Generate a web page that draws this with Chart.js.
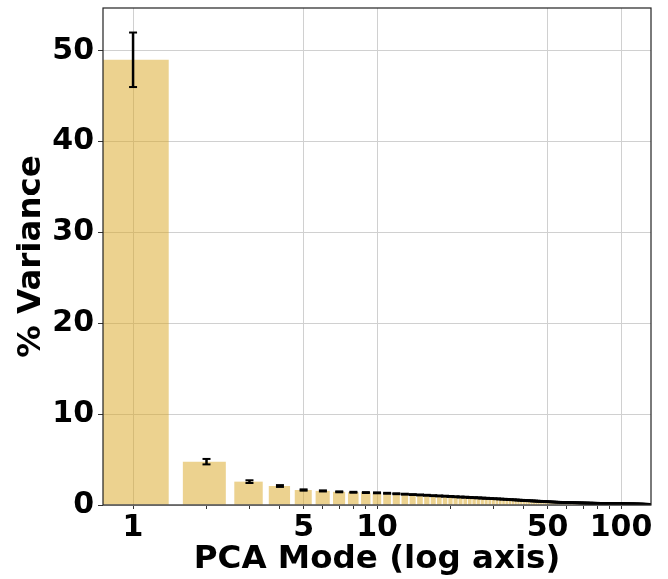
<!DOCTYPE html>
<html>
<head>
<meta charset="utf-8">
<script src="https://cdn.jsdelivr.net/npm/chart.js@4/dist/chart.umd.min.js"></script>
<style>
  html, body { margin: 0; padding: 0; background: #fff; }
  #wrap { width: 668px; height: 579px; }
</style>
</head>
<body>
<div id="wrap"><canvas id="pcaChart" width="668" height="579"></canvas></div>
<script>
// % variance per PCA mode (mode 1 .. 130)
const variance = [
  49.0, 4.77, 2.57, 2.09, 1.65, 1.55, 1.45, 1.40, 1.37, 1.34,
  1.29, 1.24, 1.19, 1.15, 1.11, 1.07, 1.03, 1.00, 0.97, 0.94,
  0.91, 0.88, 0.86, 0.83, 0.81, 0.79, 0.76, 0.74, 0.72, 0.70,
  0.68, 0.66, 0.64, 0.62, 0.60, 0.58, 0.56, 0.54, 0.52, 0.50,
  0.49, 0.47, 0.46, 0.44, 0.43, 0.41, 0.40, 0.39, 0.37, 0.36,
  0.35, 0.34, 0.33, 0.32, 0.31, 0.30, 0.29, 0.29, 0.28, 0.27,
  0.27, 0.26, 0.26, 0.25, 0.25, 0.24, 0.24, 0.23, 0.23, 0.22,
  0.22, 0.22, 0.21, 0.21, 0.21, 0.20, 0.20, 0.20, 0.20, 0.19,
  0.19, 0.19, 0.19, 0.18, 0.18, 0.18, 0.18, 0.18, 0.17, 0.17,
  0.17, 0.17, 0.17, 0.16, 0.16, 0.16, 0.16, 0.16, 0.15, 0.15,
  0.15, 0.15, 0.14, 0.14, 0.14, 0.14, 0.13, 0.13, 0.13, 0.13,
  0.13, 0.12, 0.12, 0.12, 0.12, 0.12, 0.11, 0.11, 0.11, 0.11,
  0.11, 0.10, 0.10, 0.10, 0.10, 0.10, 0.09, 0.09, 0.09, 0.09
];
// error bar half-lengths
const errors = [
  3.00, 0.30, 0.15, 0.10, 0.07, 0.06, 0.05, 0.05, 0.05, 0.05,
  0.05, 0.05, 0.05, 0.05, 0.05, 0.05, 0.05, 0.05, 0.05, 0.05,
  0.05, 0.05, 0.05, 0.05, 0.05, 0.05, 0.05, 0.05, 0.04, 0.04,
  0.04, 0.04, 0.04, 0.04, 0.04, 0.04, 0.04, 0.04, 0.04, 0.04,
  0.04, 0.04, 0.04, 0.04, 0.04, 0.04, 0.04, 0.04, 0.04, 0.04,
  0.03, 0.03, 0.03, 0.03, 0.03, 0.03, 0.03, 0.03, 0.03, 0.03,
  0.03, 0.03, 0.03, 0.03, 0.03, 0.03, 0.03, 0.03, 0.03, 0.03,
  0.03, 0.03, 0.03, 0.03, 0.03, 0.03, 0.03, 0.03, 0.03, 0.03,
  0.02, 0.02, 0.02, 0.02, 0.02, 0.02, 0.02, 0.02, 0.02, 0.02,
  0.02, 0.02, 0.02, 0.02, 0.02, 0.02, 0.02, 0.02, 0.02, 0.02,
  0.02, 0.02, 0.02, 0.02, 0.02, 0.02, 0.02, 0.02, 0.02, 0.02,
  0.02, 0.02, 0.02, 0.02, 0.02, 0.02, 0.02, 0.02, 0.02, 0.02,
  0.02, 0.02, 0.02, 0.02, 0.02, 0.02, 0.02, 0.02, 0.02, 0.02
];
const modes = variance.map((_, i) => i + 1);
const xTicksLabelled = [1, 5, 10, 50, 100];
const xTicksMinor = [1, 2, 3, 4, 5, 6, 7, 8, 9, 10, 20, 30, 40, 50, 60, 70, 80, 90, 100];
const yTicks = [0, 10, 20, 30, 40, 50];

// bar controller whose bars are 0.8 data units wide on the log axis
class LogBarController extends Chart.BarController {
  _calculateBarIndexPixels(index, ruler) {
    const iScale = this._cachedMeta.iScale;
    const x = this.getParsed(index)[iScale.axis];
    const left = iScale.getPixelForValue(x - 0.4);
    const right = iScale.getPixelForValue(x + 0.4);
    return { base: left, head: right, center: (left + right) / 2, size: right - left };
  }
}
LogBarController.id = 'logBar';
LogBarController.defaults = Chart.BarController.defaults;
LogBarController.overrides = Chart.BarController.overrides;
Chart.register(LogBarController);

// frame around the plot area (matplotlib spines)
const framePlugin = {
  id: 'frame',
  afterDatasetsDraw(chart) {
    const { ctx, chartArea: a } = chart;
    ctx.save();
    ctx.strokeStyle = '#222';
    ctx.lineWidth = 1.2;
    ctx.strokeRect(a.left, a.top, a.right - a.left, a.bottom - a.top);
    ctx.restore();
  }
};

const barData = modes.map((m, i) => ({ x: m, y: variance[i] }));
const stemData = [];
modes.forEach((m, i) => {
  stemData.push({ x: m, y: variance[i] - errors[i] });
  stemData.push({ x: m, y: variance[i] + errors[i] });
  stemData.push({ x: m, y: null });
});
const capData = [];
modes.forEach((m, i) => {
  capData.push({ x: m, y: variance[i] - errors[i] });
  capData.push({ x: m, y: variance[i] + errors[i] });
});

const tickFont = { family: 'DejaVu Sans', weight: 'bold', size: 30 };
const titleFont = { family: 'DejaVu Sans', weight: 'bold', size: 32.5, lineHeight: 1.2 };

new Chart(document.getElementById('pcaChart'), {
  type: 'logBar',
  data: {
    datasets: [
      {
        label: 'caps',
        type: 'scatter',
        data: capData,
        pointStyle: 'line',
        pointRadius: 4,
        borderWidth: 2,
        borderColor: '#000',
        order: 1
      },
      {
        label: 'stems',
        type: 'line',
        data: stemData,
        spanGaps: false,
        borderColor: '#000',
        borderWidth: 2.5,
        pointRadius: 0,
        order: 2
      },
      {
        label: 'variance',
        data: barData,
        backgroundColor: 'rgba(218,165,32,0.5)',
        borderWidth: 0,
        order: 3
      }
    ]
  },
  plugins: [framePlugin],
  options: {
    responsive: false,
    animation: false,
    events: [],
    layout: { padding: { top: 8, right: 17, left: 0, bottom: 0 } },
    plugins: { legend: { display: false }, tooltip: { enabled: false } },
    scales: {
      x: {
        type: 'logarithmic',
        min: 0.753,
        max: 132.7,
        offset: false,
        afterBuildTicks: (scale) => { scale.ticks = xTicksMinor.map(v => ({ value: v })); },
        afterFit: (scale) => { scale.height = 74; scale.paddingLeft = 0; scale.paddingRight = 0; },
        ticks: {
          autoSkip: false,
          maxRotation: 0,
          color: '#000',
          font: tickFont,
          padding: 1,
          callback: (v) => xTicksLabelled.includes(v) ? String(v) : ''
        },
        grid: {
          offset: false,
          color: (c) => c.tick && xTicksLabelled.includes(c.tick.value) ? '#d0d0d0' : 'rgba(0,0,0,0)',
          tickColor: '#333',
          tickLength: 4
        },
        border: { display: false },
        title: { display: true, text: 'PCA Mode (log axis)', color: '#000', font: titleFont, padding: { top: 0, bottom: 0 } }
      },
      y: {
        min: 0,
        max: 54.7,
        afterBuildTicks: (scale) => { scale.ticks = yTicks.map(v => ({ value: v })); },
        afterFit: (scale) => { scale.width = 103; scale.paddingTop = 0; scale.paddingBottom = 0; },
        ticks: { color: '#000', font: tickFont, padding: 4 },
        grid: { color: '#d0d0d0', tickColor: '#333', tickLength: 5 },
        border: { display: false },
        title: { display: true, text: '% Variance', color: '#000', font: titleFont, padding: { top: 12, bottom: 0 } }
      }
    }
  }
});
</script>
</body>
</html>
